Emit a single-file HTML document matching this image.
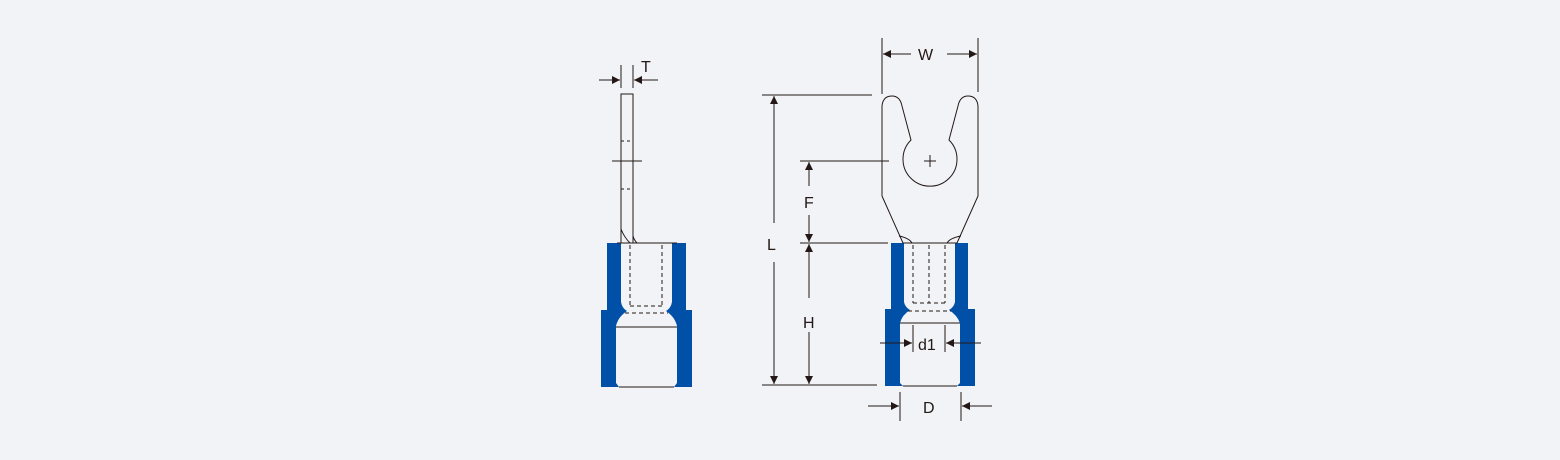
<!DOCTYPE html>
<html><head><meta charset="utf-8"><style>
html,body{margin:0;padding:0;background:#f2f3f7;}
svg{display:block}
text{font-family:"Liberation Sans",sans-serif;fill:#231815}
</style></head><body>
<svg width="1560" height="460" viewBox="0 0 1560 460" xmlns="http://www.w3.org/2000/svg">
<defs>
<marker id="a" viewBox="0 0 10 10" refX="10" refY="5" markerWidth="8" markerHeight="8" markerUnits="userSpaceOnUse" orient="auto"><path d="M0,0 L10,5 L0,10 z" fill="#231815"/></marker>
</defs>
<rect width="1560" height="460" fill="#f2f3f7"/>
<g stroke="#231815" stroke-width="1" fill="none">
<!-- LEFT: pin terminal -->
<path d="M607,243 H621 V302 Q622,308 627,311 Q618,317 616,326 V383 L619,387 H601 V310 H607 Z" fill="#0050a8" stroke="none"/>
<path d="M686,243 H672 V302 Q671,308 666,311 Q675,317 677,326 V383 L674,387 H692 V310 H686 Z" fill="#0050a8" stroke="none"/>
<rect x="621" y="94" width="12" height="149" fill="#f2f3f7"/>
<line x1="612" y1="161" x2="642" y2="161"/>
<line x1="621" y1="141" x2="633" y2="141" stroke-dasharray="3,3"/>
<line x1="621" y1="189" x2="633" y2="189" stroke-dasharray="3,3"/>
<path d="M621,229 Q624,237 630,243 M633,236 Q634,240 637,243"/>
<line x1="617" y1="243" x2="677" y2="243"/>
<line x1="616" y1="327" x2="677" y2="327"/>
<line x1="619" y1="387" x2="674" y2="387"/>
<g stroke-dasharray="4,3">
<line x1="630" y1="245" x2="630" y2="306"/><line x1="662" y1="245" x2="662" y2="306"/>
<line x1="630" y1="306" x2="662" y2="306"/><line x1="625" y1="313" x2="668" y2="313"/>
</g>
<!-- T dim -->
<line x1="621" y1="65" x2="621" y2="88"/><line x1="633" y1="65" x2="633" y2="88"/>
<line x1="599" y1="80" x2="620" y2="80" marker-end="url(#a)"/>
<line x1="658" y1="80" x2="634" y2="80" marker-end="url(#a)"/>
<!-- L dim -->
<line x1="762" y1="95" x2="872" y2="95"/>
<line x1="762" y1="385" x2="877" y2="385"/>
<line x1="774" y1="223" x2="774" y2="96" marker-end="url(#a)"/>
<line x1="774" y1="262" x2="774" y2="384" marker-end="url(#a)"/>
<!-- F/H dims -->
<line x1="800" y1="161" x2="889" y2="161"/>
<line x1="800" y1="243" x2="888" y2="243"/>
<line x1="809" y1="186" x2="809" y2="162" marker-end="url(#a)"/>
<line x1="809" y1="215" x2="809" y2="242" marker-end="url(#a)"/>
<line x1="809" y1="298" x2="809" y2="244" marker-end="url(#a)"/>
<line x1="809" y1="332" x2="809" y2="384" marker-end="url(#a)"/>
<!-- RIGHT: spade -->
<path d="M891,243 H904 V302 Q905,307 910,310 Q902,315 900,323 V383 L903,386 H885 V309 H891 Z" fill="#0050a8" stroke="none"/>
<path d="M968,243 H955 V302 Q954,307 949,310 Q957,315 960,323 V383 L957,386 H975 V309 H968 Z" fill="#0050a8" stroke="none"/>
<path d="M882,196 V106 Q883,96 892,96 Q900,96 902,106 L911,140 A27,27 0 1 0 949,140 L958,106 Q960,96 968,96 Q977,96 978,106 V196 L957,243 M882,196 L903,243"/>
<line x1="924" y1="161" x2="936" y2="161"/><line x1="930" y1="155" x2="930" y2="167"/>
<path d="M899,236 Q909,238 912,243 M961,236 Q950,238 947,243"/>
<line x1="903" y1="243" x2="957" y2="243"/>
<line x1="900" y1="323" x2="960" y2="323"/>
<line x1="903" y1="386" x2="957" y2="386"/>
<g stroke-dasharray="4,3">
<line x1="913" y1="245" x2="913" y2="303"/><line x1="929" y1="245" x2="929" y2="303"/><line x1="945" y1="245" x2="945" y2="303"/>
<line x1="913" y1="303" x2="945" y2="303"/><line x1="908" y1="311" x2="951" y2="311"/>
</g>
<!-- W dim -->
<line x1="882" y1="38" x2="882" y2="94"/><line x1="978" y1="38" x2="978" y2="92"/>
<line x1="911" y1="54" x2="883" y2="54" marker-end="url(#a)"/>
<line x1="947" y1="54" x2="977" y2="54" marker-end="url(#a)"/>
<!-- d1 dim -->
<line x1="913" y1="325" x2="913" y2="352"/><line x1="945" y1="325" x2="945" y2="352"/>
<line x1="880" y1="343" x2="912" y2="343" marker-end="url(#a)"/>
<line x1="981" y1="343" x2="946" y2="343" marker-end="url(#a)"/>
<!-- D dim -->
<line x1="900" y1="392" x2="900" y2="421"/><line x1="961" y1="392" x2="961" y2="421"/>
<line x1="868" y1="406" x2="899" y2="406" marker-end="url(#a)"/>
<line x1="992" y1="406" x2="962" y2="406" marker-end="url(#a)"/>
</g>
<g font-size="16">
<text x="641" y="72">T</text>
<text x="767" y="250">L</text>
<text x="804" y="208">F</text>
<text x="803" y="328">H</text>
<text x="918" y="60">W</text>
<text x="918" y="350">d1</text>
<text x="923" y="413">D</text>
</g>
</svg>
</body></html>
